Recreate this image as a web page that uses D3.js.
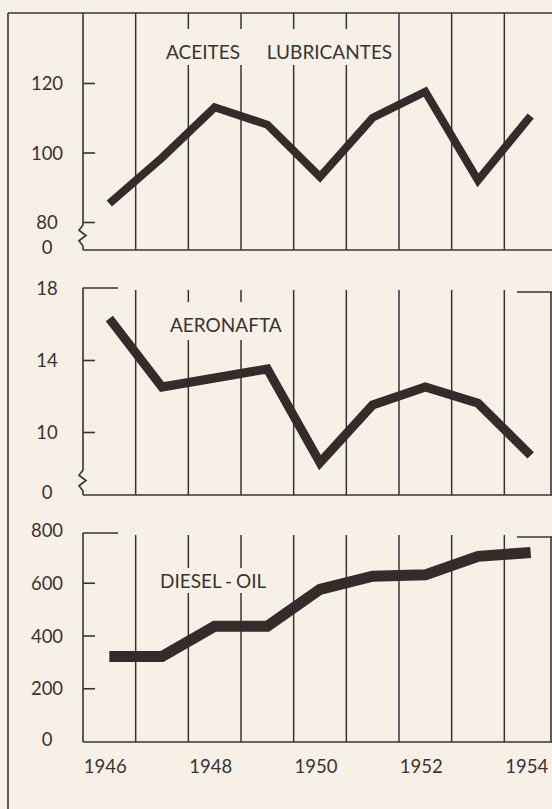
<!DOCTYPE html>
<html><head><meta charset="utf-8">
<script src="https://cdn.jsdelivr.net/npm/d3@7"></script>
<style>
html,body{margin:0;padding:0;background:#f6f0e6;}
svg{display:block;}
</style></head>
<body>
<svg id="c" width="552" height="809"></svg>
<script>
// ---- data ----
const years = [1946, 1947, 1948, 1949, 1950, 1951, 1952, 1953, 1954];
const yearLabels = [1946, 1948, 1950, 1952, 1954];
const aceites   = [85.3, 98.5, 113, 108, 93, 110, 117.5, 92, 110.5];
const aeronafta = [16.3, 12.5, 13.0, 13.5, 8.3, 11.5, 12.5, 11.6, 8.7];
const diesel    = [320, 320, 435, 435, 575, 625, 630, 700, 715];
const aceitesTicks   = [80, 100, 120];
const aeronaftaTicks = [10, 14, 18];
const dieselTicks    = [200, 400, 600, 800];
const titles = ["ACEITES LUBRICANTES", "AERONAFTA", "DIESEL - OIL"];

// ---- layout ----
const BG = "#f6f0e6", INK = "#3b3333", LINE = "#362b2b";
const FONT = "Lato, 'Open Sans', sans-serif";
const svg = d3.select("#c");
svg.append("rect").attr("width",552).attr("height",809).attr("fill",BG);

const x = d3.scaleBand().domain(years).range([83, 557]).paddingInner(0).paddingOuter(0);
const cx = d => x(d) + x.bandwidth()/2;
const axisX = 83, rightX = 551;

const panels = [
  {values: aceites, ticks: aceitesTicks, domain:[80,120], range:[222,83], top:13, base:250,
   title:titles[0], tx:166, ty:59, ws:22, lw:8, cap:false, right:false, brk:[225,246], pad:[4,14,6]},
  {values: aeronafta, ticks: aeronaftaTicks, domain:[10,18], range:[432,288], top:288, base:495,
   title:titles[1], tx:170, ty:332, ws:0, lw:9, cap:true, right:true, brk:[470,491], pad:[4,14,8]},
  {values: diesel, ticks: dieselTicks, domain:[0,800], range:[741,530], top:533, base:742,
   title:titles[2], tx:160, ty:588, ws:-1, lw:11, cap:true, right:true, brk:null, pad:[4,4,5]}
];

// outer frame: top border & left border
svg.append("line").attr("x1",8).attr("x2",552).attr("y1",13).attr("y2",13)
  .attr("stroke",INK).attr("stroke-width",1.6);
svg.append("line").attr("x1",8).attr("x2",8).attr("y1",13).attr("y2",809)
  .attr("stroke",INK).attr("stroke-width",1.6);

panels.forEach((p, pi) => {
  const y = d3.scaleLinear().domain(p.domain).range(p.range);
  const g = svg.append("g");

  // vertical grid lines at band boundaries
  const gridTop = p.cap ? p.top + 2 : p.top;
  g.selectAll("line.grid").data(years.slice(1)).join("line")
    .attr("class","grid")
    .attr("x1", d => x(d)).attr("x2", d => x(d))
    .attr("y1", gridTop).attr("y2", p.base)
    .attr("stroke", INK).attr("stroke-width", 1.5);

  // baseline
  g.append("line").attr("x1",axisX).attr("x2",552).attr("y1",p.base).attr("y2",p.base)
    .attr("stroke",INK).attr("stroke-width",1.6);

  // left axis line (with optional break)
  let path = d3.path();
  path.moveTo(axisX, p.top);
  if (p.brk) {
    const [b0,b1] = p.brk, h = (b1-b0);
    path.lineTo(axisX, b0);
    path.lineTo(axisX-4, b0 + h*0.25);
    path.lineTo(axisX+3, b0 + h*0.5);
    path.lineTo(axisX-4, b0 + h*0.75);
    path.lineTo(axisX, b1);
  }
  path.lineTo(axisX, p.base);
  g.append("path").attr("d", path.toString()).attr("fill","none")
    .attr("stroke",INK).attr("stroke-width",1.6);

  // top caps
  if (p.cap) {
    g.append("line").attr("x1",axisX).attr("x2",axisX+35).attr("y1",p.top).attr("y2",p.top)
      .attr("stroke",INK).attr("stroke-width",1.6);
    g.append("line").attr("x1",rightX-34).attr("x2",552).attr("y1",p.top+4).attr("y2",p.top+4)
      .attr("stroke",INK).attr("stroke-width",1.6);
  }
  if (p.right) {
    g.append("line").attr("x1",rightX).attr("x2",rightX).attr("y1",p.top+4).attr("y2",p.base)
      .attr("stroke",INK).attr("stroke-width",1.6);
  }

  // ticks via d3 axis (ticks inward), labels centered at x≈47
  const tickVals = p.cap ? p.ticks.slice(0,-1) : p.ticks;
  const ax = d3.axisLeft(y).tickValues(p.ticks).tickSizeInner(-12).tickSizeOuter(0).tickPadding(36);
  const axg = g.append("g").attr("transform",`translate(${axisX},0)`).call(ax);
  axg.select(".domain").remove();
  axg.selectAll(".tick line").attr("stroke",INK).attr("stroke-width",1.6)
    .attr("opacity", d => tickVals.includes(d) ? 1 : 0);
  axg.selectAll(".tick text").attr("text-anchor","middle").attr("fill",INK)
    .style("font-family",FONT).style("font-size","18.5px").attr("dy","0.36em");
  // zero label at baseline
  g.append("text").attr("x",47).attr("y",p.base-3).attr("dy","0.36em")
    .attr("text-anchor","middle").attr("fill",INK)
    .style("font-family",FONT).style("font-size","18.5px").text("0");

  // title with knockout background
  const t = g.append("text").attr("x",p.tx).attr("y",p.ty).attr("fill",INK)
    .style("font-family",FONT).style("font-size","19px").style("word-spacing",p.ws+"px")
    .text(p.title);
  const bb = t.node().getBBox();
  g.append("rect")
    .attr("x", bb.x - p.pad[0]).attr("y", bb.y + 3 - p.pad[1])
    .attr("width", bb.width + 2*p.pad[0]).attr("height", bb.height - 7 + p.pad[1] + p.pad[2])
    .attr("fill", BG);
  t.raise();

  // data line
  const line = d3.line().x((d,i) => cx(years[i])).y(d => y(d));
  g.append("path").datum(p.values).attr("d", line)
    .attr("fill","none").attr("stroke",LINE).attr("stroke-width",p.lw)
    .attr("stroke-linejoin","miter").attr("stroke-linecap","butt");
});

// x-axis year labels
svg.append("g").selectAll("text").data(yearLabels).join("text")
  .attr("x", d => cx(d) - 4).attr("y", 773)
  .attr("text-anchor","middle").attr("fill",INK)
  .style("font-family",FONT).style("font-size","18.5px")
  .text(d => d);
</script>
</body></html>
